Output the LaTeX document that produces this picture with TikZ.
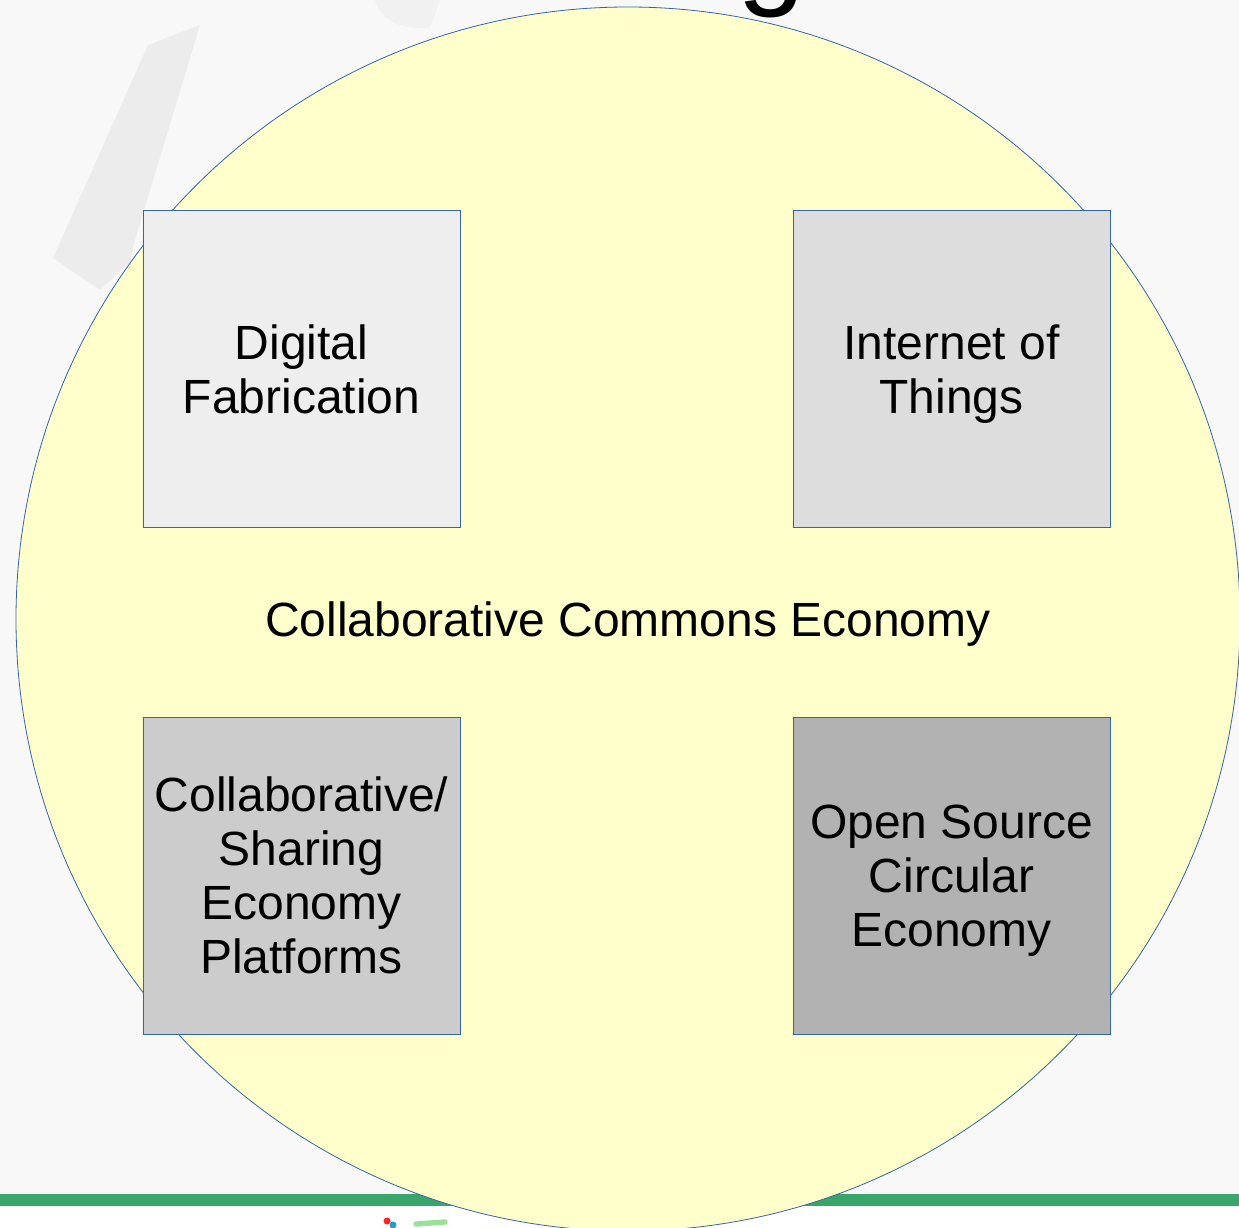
\documentclass[tikz,border=0pt]{standalone}
\usepackage{fontspec}
\setmainfont{Liberation Sans}
\usetikzlibrary{positioning}

\definecolor{paleyellow}{RGB}{255,255,204}
\definecolor{edgeblue}{RGB}{52,101,164}
\definecolor{stripegreen}{RGB}{56,166,106}
\definecolor{slidegray}{RGB}{248,248,248}
\definecolor{shadegray}{RGB}{236,236,236}

\begin{document}
\begin{tikzpicture}[x=0.75pt,y=0.75pt,yscale=-1,xscale=1,
  box/.style={draw=edgeblue, line width=0.6pt, minimum width=237.75pt, minimum height=237.75pt,
    inner sep=0pt, align=center, text depth=0pt, font=\fontsize{36}{40.5}\selectfont}]

\useasboundingbox (0,0) rectangle (1239,1228);
\clip (0,0) rectangle (1239,1228);

%=====Háttér=======
\fill [slidegray] (0,0) rectangle (1239,1194);
\fill [white] (0,1206) rectangle (1239,1228);
\fill [shadegray] (53,258) -- (148,45) -- (200,25) -- (135,240) -- (130,262) -- (100,290) -- cycle ;
\fill [shadegray!60!slidegray] (375,0) .. controls (380,20) and (400,30) .. (430,28) -- (440,0) -- cycle ;
\fill [stripegreen] (0,1194) rectangle (1239,1206);
\node [font=\fontsize{92}{92}\selectfont, anchor=base] (titleg) at (772,-8) {g};

%=====Kör=======
\node [circle, draw=edgeblue, line width=0.6pt, fill=paleyellow, minimum size=918pt, inner sep=0pt,
  text depth=0pt, font=\fontsize{36}{40.5}\selectfont] (commons) at (628,619) {Collaborative Commons Economy};

%=====Dobozok=======
\node [box, fill=gray!13] (fab) at (301.5,369) {Digital\\Fabrication};
\node [box, fill=gray!27] (iot) at (951.5,369) {Internet of\\Things};
\node [box, fill=gray!40] (sharing) at (301.5,875.5) {Collaborative/\\Sharing\\Economy\\Platforms};
\node [box, fill=gray!60] (circular) at (951.5,875.5) {Open Source\\Circular\\Economy};

%=====Logó=======
\fill [red!80!pink] (387,1221) circle (3.5);
\fill [cyan!60!teal] (393,1225) circle (3.5);
\draw [green!70!black!40, line width=4pt, line cap=round] (416,1224) -- (445,1222) ;

\end{tikzpicture}
\end{document}
